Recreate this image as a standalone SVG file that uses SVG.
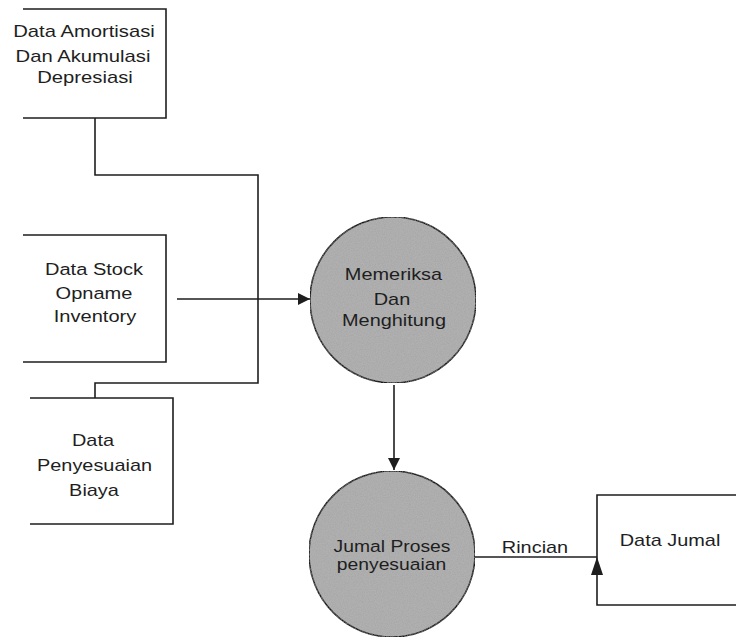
<svg xmlns="http://www.w3.org/2000/svg" width="736" height="638" viewBox="0 0 736 638">
<style>
.ln{fill:none;stroke:#1e1e1e;stroke-width:1.6}
.proc{fill:#b0b0b0;stroke:#1e1e1e;stroke-width:1.6}
text{font-family:"Liberation Sans",Arial,sans-serif;font-size:17px;fill:#1e1e1e;text-anchor:middle}
</style>
<defs>
<filter id="grain" x="0" y="0" width="1" height="1">
<feTurbulence type="fractalNoise" baseFrequency="0.85" numOctaves="2" seed="3" result="n"/>
<feColorMatrix in="n" type="matrix" values="0 0 0 0 0.33  0 0 0 0 0.33  0 0 0 0 0.33  0 0 0 0.9 -0.3" result="dots"/>
<feComposite in="dots" in2="SourceGraphic" operator="in" result="d2"/>
<feMerge><feMergeNode in="SourceGraphic"/><feMergeNode in="d2"/></feMerge>
</filter>
<marker id="ah" viewBox="0 0 10 10" refX="10" refY="5" markerWidth="14" markerHeight="12" markerUnits="userSpaceOnUse" orient="auto">
<path d="M0,0 L10,5 L0,10 z" fill="#1e1e1e"/>
</marker>
</defs>
<g id="connectors">
<path class="ln" d="M95,118 V175 H258 V383 H95 V398"/>
<path class="ln" d="M177,299 H310" marker-end="url(#ah)"/>
<path class="ln" d="M394,385 V470" marker-end="url(#ah)"/>
<path class="ln" d="M475,557 H597"/>
<path d="M591,575 L603,575 L597,557 z" fill="#1e1e1e"/>
<text transform="translate(535,553) scale(1.17,1)">Rincian</text>
</g>
<g id="entity-amortisasi">
<path class="ln" d="M23,9 H166 V118 H23"/>
<text transform="translate(84,37) scale(1.19,1)">Data Amortisasi</text>
<text transform="translate(83,62) scale(1.19,1)">Dan Akumulasi</text>
<text transform="translate(85,83) scale(1.19,1)">Depresiasi</text>
</g>
<g id="entity-stock">
<path class="ln" d="M23,235 H166 V362 H23"/>
<text transform="translate(94,275) scale(1.18,1)">Data Stock</text>
<text transform="translate(94,299) scale(1.18,1)">Opname</text>
<text transform="translate(95,322) scale(1.18,1)">Inventory</text>
</g>
<g id="entity-biaya">
<path class="ln" d="M30,398 H173 V524 H30"/>
<text transform="translate(93,446) scale(1.17,1)">Data</text>
<text transform="translate(94.5,471) scale(1.17,1)">Penyesuaian</text>
<text transform="translate(94,496) scale(1.17,1)">Biaya</text>
</g>
<g id="process-memeriksa">
<circle class="proc" cx="393" cy="300" r="83" filter="url(#grain)"/>
<text transform="translate(393.5,280) scale(1.17,1)">Memeriksa</text>
<text transform="translate(392,305) scale(1.17,1)">Dan</text>
<text transform="translate(394,326) scale(1.17,1)">Menghitung</text>
</g>
<g id="process-jurnal">
<circle class="proc" cx="392" cy="554" r="83" filter="url(#grain)"/>
<text transform="translate(392,552) scale(1.17,1)" style="font-size:16.5px">Jumal Proses</text>
<text transform="translate(391.5,570) scale(1.17,1)" style="font-size:16.5px">penyesuaian</text>
</g>
<g id="entity-jurnal">
<path class="ln" d="M736,495 H597 V605 H736"/>
<text transform="translate(670,546) scale(1.17,1)">Data Jumal</text>
</g>
</svg>
